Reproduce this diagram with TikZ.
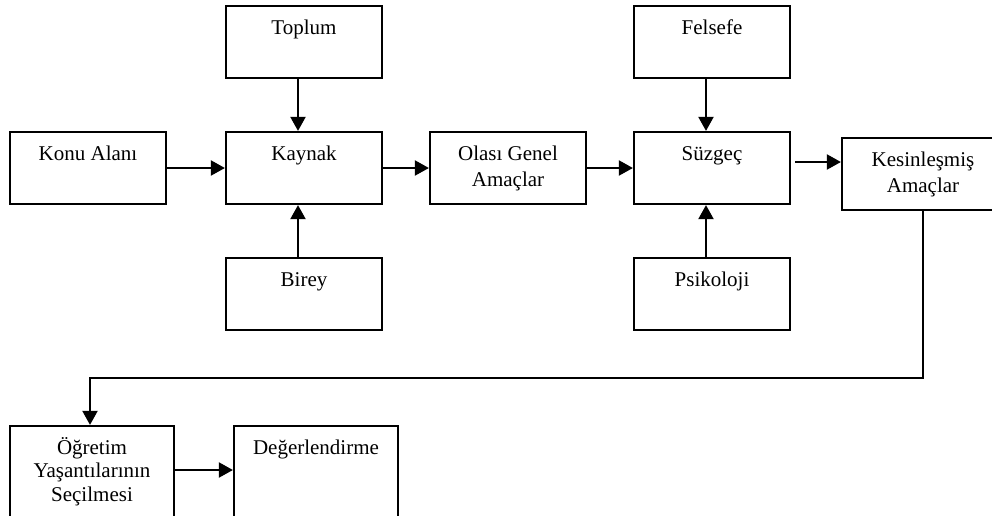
\documentclass[tikz,border=0pt]{standalone}
\usepackage{fontspec}
\setmainfont{Liberation Serif}
\usetikzlibrary{arrows.meta}

\begin{document}
\begin{tikzpicture}[
x=0.5pt,y=-0.5pt,
>={Triangle[length=7pt,width=7.5pt]},
every node/.style={font={\fontsize{10.5pt}{11.75pt}\selectfont}},
blok/.style={draw,line width=1.1pt,inner sep=0pt,align=center,minimum width=78pt,text height=14pt,text depth=22pt},
ikisatir/.style={blok,font={\fontsize{10.5pt}{13.25pt}\selectfont},text height=27.25pt,text depth=8.75pt},
uzun/.style={blok,minimum width=82pt,text depth=36pt},
ok/.style={->,line width=1pt}
]
\useasboundingbox (0,0) rectangle (992,515);
\clip (0,0) rectangle (992,515);

% Boxes
\node[blok] (konu) at (88,168) {Konu Alanı};
\node[blok] (toplum) at (304,42) {Toplum};
\node[blok] (kaynak) at (304,168) {Kaynak};
\node[blok] (birey) at (304,294) {Birey};
\node[ikisatir] (olasi) at (508,168) {Olası Genel\\Amaçlar};
\node[blok] (felsefe) at (712,42) {Felsefe};
\node[blok] (suzgec) at (712,168) {Süzgeç};
\node[blok] (psikoloji) at (712,294) {Psikoloji};
\node[ikisatir,minimum width=81pt] (kesin) at (923,174) {Kesinleşmiş\\Amaçlar};
\node[uzun,text height=37.5pt,text depth=12.5pt] (ogretim) at (92,476) {Öğretim\\Yaşantılarının\\Seçilmesi};
\node[uzun] (deger) at (316,476) {Değerlendirme};

\coordinate (kose) at (923,378);

% Arrows into Kaynak
\draw[ok] (konu) -- (kaynak);
\draw[ok] ([xshift=-3pt]toplum.south) -- ([xshift=-3pt]kaynak.north);
\draw[ok] ([xshift=-3pt]birey.north) -- ([xshift=-3pt]kaynak.south);

% Kaynak -> Olasi -> Suzgec
\draw[ok] (kaynak) -- (olasi);
\draw[ok] (olasi) -- (suzgec);

% Arrows into Suzgec
\draw[ok] ([xshift=-3pt]felsefe.south) -- ([xshift=-3pt]suzgec.north);
\draw[ok] ([xshift=-3pt]psikoloji.north) -- ([xshift=-3pt]suzgec.south);

% Suzgec -> Kesin
\draw[ok] ([xshift=2pt,yshift=3pt]suzgec.east) -- ([yshift=3pt]suzgec.east -| kesin.west);

% Kesin -> Ogretim -> Deger
\draw[ok] (kesin.south) -- (kose) -| ([xshift=-1pt]ogretim.north);
\draw[ok] ([yshift=3pt]ogretim.east) -- ([yshift=3pt]ogretim.east -| deger.west);

\end{tikzpicture}
\end{document}
